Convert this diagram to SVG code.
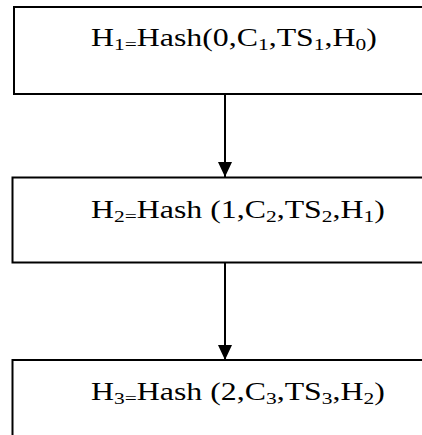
<svg xmlns="http://www.w3.org/2000/svg" width="422" height="435" viewBox="0 0 422 435">
<defs>
<marker id="ah" markerWidth="15" markerHeight="14" refX="15" refY="7" orient="auto" markerUnits="userSpaceOnUse" viewBox="0 0 15 14">
<path d="M0,0 L15,7 L0,14 Z" fill="#000"/>
</marker>
</defs>
<style>
.box{fill:#fff;stroke:#000;stroke-width:2}
.lbl{font-family:"Liberation Serif","Times New Roman",serif;font-size:24.5px;fill:#000}
.sub{font-size:16.5px}
.con{stroke:#000;stroke-width:2;fill:none}
</style>
<g id="node1">
<rect class="box" x="14" y="7" width="420" height="87"/>
<text class="lbl" transform="translate(91,46) scale(1.3,1)">H<tspan class="sub" dy="4">1=</tspan><tspan dy="-4">Hash(0,C</tspan><tspan class="sub" dy="4">1</tspan><tspan dy="-4">,TS</tspan><tspan class="sub" dy="4">1</tspan><tspan dy="-4">,H</tspan><tspan class="sub" dy="4">0</tspan><tspan dy="-4">)</tspan></text>
</g>
<g id="node2">
<rect class="box" x="12.5" y="177.5" width="420" height="85"/>
<text class="lbl" transform="translate(91,218) scale(1.3,1)">H<tspan class="sub" dy="4">2=</tspan><tspan dy="-4">Hash (1,C</tspan><tspan class="sub" dy="4">2</tspan><tspan dy="-4">,TS</tspan><tspan class="sub" dy="4">2</tspan><tspan dy="-4">,H</tspan><tspan class="sub" dy="4">1</tspan><tspan dy="-4">)</tspan></text>
</g>
<g id="node3">
<rect class="box" x="12.5" y="360" width="420" height="100"/>
<text class="lbl" transform="translate(91,400) scale(1.3,1)">H<tspan class="sub" dy="4">3=</tspan><tspan dy="-4">Hash (2,C</tspan><tspan class="sub" dy="4">3</tspan><tspan dy="-4">,TS</tspan><tspan class="sub" dy="4">3</tspan><tspan dy="-4">,H</tspan><tspan class="sub" dy="4">2</tspan><tspan dy="-4">)</tspan></text>
</g>
<g id="connectors">
<line class="con" x1="225" y1="94" x2="225" y2="177" marker-end="url(#ah)"/>
<line class="con" x1="225" y1="263" x2="225" y2="360" marker-end="url(#ah)"/>
</g>
</svg>
